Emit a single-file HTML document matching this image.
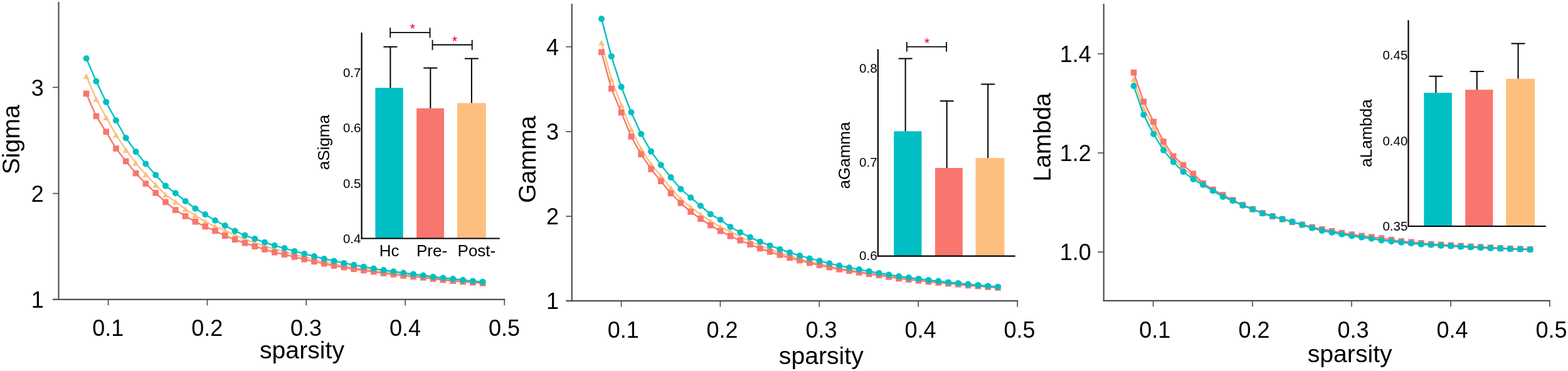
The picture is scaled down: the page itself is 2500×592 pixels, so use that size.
<!DOCTYPE html>
<html><head><meta charset="utf-8"><title>Sigma Gamma Lambda</title>
<style>
html,body{margin:0;padding:0;background:#fff;}
body{width:2500px;height:592px;overflow:hidden;}
svg{display:block;}
text{font-family:'Liberation Sans', Arial, Helvetica, sans-serif;}
</style></head><body>
<svg width="2500" height="592" viewBox="0 0 2500 592">
<rect width="2500" height="592" fill="#fff"/>
<polyline points="137.60,121.50 153.40,158.00 169.20,187.40 185.00,215.30 200.80,239.30 216.60,260.30 232.40,278.40 248.20,295.00 264.00,310.80 279.80,322.00 295.60,333.70 311.40,343.70 327.20,353.80 343.00,361.50 358.80,367.50 374.60,375.11 390.40,381.63 406.20,387.28 422.00,392.64 437.80,397.65 453.60,401.68 469.40,406.01 485.20,410.19 501.00,414.08 516.80,417.56 532.60,420.96 548.40,423.86 564.20,426.66 580.00,429.22 595.80,431.60 611.60,434.04 627.40,436.06 643.20,438.14 659.00,439.84 674.80,441.54 690.60,443.72 706.40,445.42 722.20,446.92 738.00,448.44 753.80,449.88 769.60,451.12" fill="none" stroke="#FDBF7E" stroke-width="2.4" stroke-linejoin="round"/>
<polygon points="137.60,117.00 132.60,126.00 142.60,126.00" fill="#FDBF7E"/>
<polygon points="153.40,153.50 148.40,162.50 158.40,162.50" fill="#FDBF7E"/>
<polygon points="169.20,182.90 164.20,191.90 174.20,191.90" fill="#FDBF7E"/>
<polygon points="185.00,210.80 180.00,219.80 190.00,219.80" fill="#FDBF7E"/>
<polygon points="200.80,234.80 195.80,243.80 205.80,243.80" fill="#FDBF7E"/>
<polygon points="216.60,255.80 211.60,264.80 221.60,264.80" fill="#FDBF7E"/>
<polygon points="232.40,273.90 227.40,282.90 237.40,282.90" fill="#FDBF7E"/>
<polygon points="248.20,290.50 243.20,299.50 253.20,299.50" fill="#FDBF7E"/>
<polygon points="264.00,306.30 259.00,315.30 269.00,315.30" fill="#FDBF7E"/>
<polygon points="279.80,317.50 274.80,326.50 284.80,326.50" fill="#FDBF7E"/>
<polygon points="295.60,329.20 290.60,338.20 300.60,338.20" fill="#FDBF7E"/>
<polygon points="311.40,339.20 306.40,348.20 316.40,348.20" fill="#FDBF7E"/>
<polygon points="327.20,349.30 322.20,358.30 332.20,358.30" fill="#FDBF7E"/>
<polygon points="343.00,357.00 338.00,366.00 348.00,366.00" fill="#FDBF7E"/>
<polygon points="358.80,363.00 353.80,372.00 363.80,372.00" fill="#FDBF7E"/>
<polygon points="374.60,370.61 369.60,379.61 379.60,379.61" fill="#FDBF7E"/>
<polygon points="390.40,377.13 385.40,386.13 395.40,386.13" fill="#FDBF7E"/>
<polygon points="406.20,382.78 401.20,391.78 411.20,391.78" fill="#FDBF7E"/>
<polygon points="422.00,388.14 417.00,397.14 427.00,397.14" fill="#FDBF7E"/>
<polygon points="437.80,393.15 432.80,402.15 442.80,402.15" fill="#FDBF7E"/>
<polygon points="453.60,397.18 448.60,406.18 458.60,406.18" fill="#FDBF7E"/>
<polygon points="469.40,401.51 464.40,410.51 474.40,410.51" fill="#FDBF7E"/>
<polygon points="485.20,405.69 480.20,414.69 490.20,414.69" fill="#FDBF7E"/>
<polygon points="501.00,409.58 496.00,418.58 506.00,418.58" fill="#FDBF7E"/>
<polygon points="516.80,413.06 511.80,422.06 521.80,422.06" fill="#FDBF7E"/>
<polygon points="532.60,416.46 527.60,425.46 537.60,425.46" fill="#FDBF7E"/>
<polygon points="548.40,419.36 543.40,428.36 553.40,428.36" fill="#FDBF7E"/>
<polygon points="564.20,422.16 559.20,431.16 569.20,431.16" fill="#FDBF7E"/>
<polygon points="580.00,424.72 575.00,433.72 585.00,433.72" fill="#FDBF7E"/>
<polygon points="595.80,427.10 590.80,436.10 600.80,436.10" fill="#FDBF7E"/>
<polygon points="611.60,429.54 606.60,438.54 616.60,438.54" fill="#FDBF7E"/>
<polygon points="627.40,431.56 622.40,440.56 632.40,440.56" fill="#FDBF7E"/>
<polygon points="643.20,433.64 638.20,442.64 648.20,442.64" fill="#FDBF7E"/>
<polygon points="659.00,435.34 654.00,444.34 664.00,444.34" fill="#FDBF7E"/>
<polygon points="674.80,437.04 669.80,446.04 679.80,446.04" fill="#FDBF7E"/>
<polygon points="690.60,439.22 685.60,448.22 695.60,448.22" fill="#FDBF7E"/>
<polygon points="706.40,440.92 701.40,449.92 711.40,449.92" fill="#FDBF7E"/>
<polygon points="722.20,442.42 717.20,451.42 727.20,451.42" fill="#FDBF7E"/>
<polygon points="738.00,443.94 733.00,452.94 743.00,452.94" fill="#FDBF7E"/>
<polygon points="753.80,445.38 748.80,454.38 758.80,454.38" fill="#FDBF7E"/>
<polygon points="769.60,446.62 764.60,455.62 774.60,455.62" fill="#FDBF7E"/>
<polyline points="137.60,149.40 153.40,185.40 169.20,210.30 185.00,237.00 200.80,257.30 216.60,276.60 232.40,293.00 248.20,307.80 264.00,322.40 279.80,335.10 295.60,344.90 311.40,353.80 327.20,361.50 343.00,368.50 358.80,376.20 374.60,382.30 390.40,387.80 406.20,393.20 422.00,397.90 437.80,402.60 453.60,406.10 469.40,409.80 485.20,413.80 501.00,417.40 516.80,420.60 532.60,424.00 548.40,426.50 564.20,429.30 580.00,431.50 595.80,433.60 611.60,436.00 627.40,437.90 643.20,439.90 659.00,441.40 674.80,442.90 690.60,445.00 706.40,446.70 722.20,448.20 738.00,449.60 753.80,450.80 769.60,452.00" fill="none" stroke="#F8766D" stroke-width="2.4" stroke-linejoin="round"/>
<rect x="132.80" y="144.60" width="9.6" height="9.6" fill="#F8766D"/>
<rect x="148.60" y="180.60" width="9.6" height="9.6" fill="#F8766D"/>
<rect x="164.40" y="205.50" width="9.6" height="9.6" fill="#F8766D"/>
<rect x="180.20" y="232.20" width="9.6" height="9.6" fill="#F8766D"/>
<rect x="196.00" y="252.50" width="9.6" height="9.6" fill="#F8766D"/>
<rect x="211.80" y="271.80" width="9.6" height="9.6" fill="#F8766D"/>
<rect x="227.60" y="288.20" width="9.6" height="9.6" fill="#F8766D"/>
<rect x="243.40" y="303.00" width="9.6" height="9.6" fill="#F8766D"/>
<rect x="259.20" y="317.60" width="9.6" height="9.6" fill="#F8766D"/>
<rect x="275.00" y="330.30" width="9.6" height="9.6" fill="#F8766D"/>
<rect x="290.80" y="340.10" width="9.6" height="9.6" fill="#F8766D"/>
<rect x="306.60" y="349.00" width="9.6" height="9.6" fill="#F8766D"/>
<rect x="322.40" y="356.70" width="9.6" height="9.6" fill="#F8766D"/>
<rect x="338.20" y="363.70" width="9.6" height="9.6" fill="#F8766D"/>
<rect x="354.00" y="371.40" width="9.6" height="9.6" fill="#F8766D"/>
<rect x="369.80" y="377.50" width="9.6" height="9.6" fill="#F8766D"/>
<rect x="385.60" y="383.00" width="9.6" height="9.6" fill="#F8766D"/>
<rect x="401.40" y="388.40" width="9.6" height="9.6" fill="#F8766D"/>
<rect x="417.20" y="393.10" width="9.6" height="9.6" fill="#F8766D"/>
<rect x="433.00" y="397.80" width="9.6" height="9.6" fill="#F8766D"/>
<rect x="448.80" y="401.30" width="9.6" height="9.6" fill="#F8766D"/>
<rect x="464.60" y="405.00" width="9.6" height="9.6" fill="#F8766D"/>
<rect x="480.40" y="409.00" width="9.6" height="9.6" fill="#F8766D"/>
<rect x="496.20" y="412.60" width="9.6" height="9.6" fill="#F8766D"/>
<rect x="512.00" y="415.80" width="9.6" height="9.6" fill="#F8766D"/>
<rect x="527.80" y="419.20" width="9.6" height="9.6" fill="#F8766D"/>
<rect x="543.60" y="421.70" width="9.6" height="9.6" fill="#F8766D"/>
<rect x="559.40" y="424.50" width="9.6" height="9.6" fill="#F8766D"/>
<rect x="575.20" y="426.70" width="9.6" height="9.6" fill="#F8766D"/>
<rect x="591.00" y="428.80" width="9.6" height="9.6" fill="#F8766D"/>
<rect x="606.80" y="431.20" width="9.6" height="9.6" fill="#F8766D"/>
<rect x="622.60" y="433.10" width="9.6" height="9.6" fill="#F8766D"/>
<rect x="638.40" y="435.10" width="9.6" height="9.6" fill="#F8766D"/>
<rect x="654.20" y="436.60" width="9.6" height="9.6" fill="#F8766D"/>
<rect x="670.00" y="438.10" width="9.6" height="9.6" fill="#F8766D"/>
<rect x="685.80" y="440.20" width="9.6" height="9.6" fill="#F8766D"/>
<rect x="701.60" y="441.90" width="9.6" height="9.6" fill="#F8766D"/>
<rect x="717.40" y="443.40" width="9.6" height="9.6" fill="#F8766D"/>
<rect x="733.20" y="444.80" width="9.6" height="9.6" fill="#F8766D"/>
<rect x="749.00" y="446.00" width="9.6" height="9.6" fill="#F8766D"/>
<rect x="764.80" y="447.20" width="9.6" height="9.6" fill="#F8766D"/>
<polyline points="137.60,93.20 153.40,129.70 169.20,162.80 185.00,192.20 200.80,220.20 216.60,242.10 232.40,261.50 248.20,279.20 264.00,296.60 279.80,308.20 295.60,321.00 311.40,332.70 327.20,342.20 343.00,351.70 358.80,360.00 374.60,368.50 390.40,375.60 406.20,381.10 422.00,386.80 437.80,391.80 453.60,396.10 469.40,400.90 485.20,405.00 501.00,409.10 516.80,413.00 532.60,416.40 548.40,419.90 564.20,422.70 580.00,425.80 595.80,428.60 611.60,431.10 627.40,433.30 643.20,435.50 659.00,437.50 674.80,439.50 690.60,441.80 706.40,443.50 722.20,445.00 738.00,446.70 753.80,448.50 769.60,449.80" fill="none" stroke="#00BFC4" stroke-width="2.4" stroke-linejoin="round"/>
<circle cx="137.60" cy="93.20" r="5.0" fill="#00BFC4"/>
<circle cx="153.40" cy="129.70" r="5.0" fill="#00BFC4"/>
<circle cx="169.20" cy="162.80" r="5.0" fill="#00BFC4"/>
<circle cx="185.00" cy="192.20" r="5.0" fill="#00BFC4"/>
<circle cx="200.80" cy="220.20" r="5.0" fill="#00BFC4"/>
<circle cx="216.60" cy="242.10" r="5.0" fill="#00BFC4"/>
<circle cx="232.40" cy="261.50" r="5.0" fill="#00BFC4"/>
<circle cx="248.20" cy="279.20" r="5.0" fill="#00BFC4"/>
<circle cx="264.00" cy="296.60" r="5.0" fill="#00BFC4"/>
<circle cx="279.80" cy="308.20" r="5.0" fill="#00BFC4"/>
<circle cx="295.60" cy="321.00" r="5.0" fill="#00BFC4"/>
<circle cx="311.40" cy="332.70" r="5.0" fill="#00BFC4"/>
<circle cx="327.20" cy="342.20" r="5.0" fill="#00BFC4"/>
<circle cx="343.00" cy="351.70" r="5.0" fill="#00BFC4"/>
<circle cx="358.80" cy="360.00" r="5.0" fill="#00BFC4"/>
<circle cx="374.60" cy="368.50" r="5.0" fill="#00BFC4"/>
<circle cx="390.40" cy="375.60" r="5.0" fill="#00BFC4"/>
<circle cx="406.20" cy="381.10" r="5.0" fill="#00BFC4"/>
<circle cx="422.00" cy="386.80" r="5.0" fill="#00BFC4"/>
<circle cx="437.80" cy="391.80" r="5.0" fill="#00BFC4"/>
<circle cx="453.60" cy="396.10" r="5.0" fill="#00BFC4"/>
<circle cx="469.40" cy="400.90" r="5.0" fill="#00BFC4"/>
<circle cx="485.20" cy="405.00" r="5.0" fill="#00BFC4"/>
<circle cx="501.00" cy="409.10" r="5.0" fill="#00BFC4"/>
<circle cx="516.80" cy="413.00" r="5.0" fill="#00BFC4"/>
<circle cx="532.60" cy="416.40" r="5.0" fill="#00BFC4"/>
<circle cx="548.40" cy="419.90" r="5.0" fill="#00BFC4"/>
<circle cx="564.20" cy="422.70" r="5.0" fill="#00BFC4"/>
<circle cx="580.00" cy="425.80" r="5.0" fill="#00BFC4"/>
<circle cx="595.80" cy="428.60" r="5.0" fill="#00BFC4"/>
<circle cx="611.60" cy="431.10" r="5.0" fill="#00BFC4"/>
<circle cx="627.40" cy="433.30" r="5.0" fill="#00BFC4"/>
<circle cx="643.20" cy="435.50" r="5.0" fill="#00BFC4"/>
<circle cx="659.00" cy="437.50" r="5.0" fill="#00BFC4"/>
<circle cx="674.80" cy="439.50" r="5.0" fill="#00BFC4"/>
<circle cx="690.60" cy="441.80" r="5.0" fill="#00BFC4"/>
<circle cx="706.40" cy="443.50" r="5.0" fill="#00BFC4"/>
<circle cx="722.20" cy="445.00" r="5.0" fill="#00BFC4"/>
<circle cx="738.00" cy="446.70" r="5.0" fill="#00BFC4"/>
<circle cx="753.80" cy="448.50" r="5.0" fill="#00BFC4"/>
<circle cx="769.60" cy="449.80" r="5.0" fill="#00BFC4"/>
<line x1="93.50" y1="3.00" x2="93.50" y2="478.90" stroke="#505050" stroke-width="2.2" stroke-linecap="butt"/>
<line x1="84.00" y1="477.80" x2="805.40" y2="477.80" stroke="#505050" stroke-width="2.2" stroke-linecap="butt"/>
<line x1="84.00" y1="139.40" x2="93.50" y2="139.40" stroke="#505050" stroke-width="1.7" stroke-linecap="butt"/>
<text x="69.80" y="152.60" font-size="36" text-anchor="end" fill="#000">3</text>
<line x1="84.00" y1="308.70" x2="93.50" y2="308.70" stroke="#505050" stroke-width="1.7" stroke-linecap="butt"/>
<text x="69.80" y="321.90" font-size="36" text-anchor="end" fill="#000">2</text>
<line x1="84.00" y1="477.80" x2="93.50" y2="477.80" stroke="#505050" stroke-width="1.7" stroke-linecap="butt"/>
<text x="69.80" y="491.00" font-size="36" text-anchor="end" fill="#000">1</text>
<line x1="172.60" y1="477.80" x2="172.60" y2="487.30" stroke="#505050" stroke-width="1.7" stroke-linecap="butt"/>
<text x="172.30" y="536.20" font-size="36" text-anchor="middle" fill="#000">0.1</text>
<line x1="330.50" y1="477.80" x2="330.50" y2="487.30" stroke="#505050" stroke-width="1.7" stroke-linecap="butt"/>
<text x="330.20" y="536.20" font-size="36" text-anchor="middle" fill="#000">0.2</text>
<line x1="488.30" y1="477.80" x2="488.30" y2="487.30" stroke="#505050" stroke-width="1.7" stroke-linecap="butt"/>
<text x="488.00" y="536.20" font-size="36" text-anchor="middle" fill="#000">0.3</text>
<line x1="646.20" y1="477.80" x2="646.20" y2="487.30" stroke="#505050" stroke-width="1.7" stroke-linecap="butt"/>
<text x="645.90" y="536.20" font-size="36" text-anchor="middle" fill="#000">0.4</text>
<line x1="804.30" y1="477.80" x2="804.30" y2="487.30" stroke="#505050" stroke-width="1.7" stroke-linecap="butt"/>
<text x="804.00" y="536.20" font-size="36" text-anchor="middle" fill="#000">0.5</text>
<text x="31.50" y="222.80" font-size="39.2" text-anchor="middle" fill="#000" transform="rotate(-90 31.50 222.80)">Sigma</text>
<text x="481.50" y="571.70" font-size="39.2" text-anchor="middle" fill="#000">sparsity</text>
<polyline points="959.00,68.00 974.80,126.50 990.60,167.40 1006.40,206.50 1022.20,237.50 1038.00,261.80 1053.80,281.10 1069.60,300.30 1085.40,317.60 1101.20,330.50 1117.00,342.00 1132.80,352.80 1148.60,362.00 1164.40,369.70 1180.20,377.72 1196.00,384.99 1211.80,392.01 1227.60,397.84 1243.40,403.34 1259.20,408.38 1275.00,412.92 1290.80,417.30 1306.60,421.03 1322.40,424.71 1338.20,428.00 1354.00,430.67 1369.80,433.39 1385.60,435.98 1401.40,438.28 1417.20,440.88 1433.00,443.38 1448.80,445.17 1464.60,446.93 1480.40,448.79 1496.20,450.35 1512.00,451.94 1527.80,453.23 1543.60,454.93 1559.40,456.12 1575.20,457.48 1591.00,458.68" fill="none" stroke="#FDBF7E" stroke-width="2.4" stroke-linejoin="round"/>
<polygon points="959.00,63.50 954.00,72.50 964.00,72.50" fill="#FDBF7E"/>
<polygon points="974.80,122.00 969.80,131.00 979.80,131.00" fill="#FDBF7E"/>
<polygon points="990.60,162.90 985.60,171.90 995.60,171.90" fill="#FDBF7E"/>
<polygon points="1006.40,202.00 1001.40,211.00 1011.40,211.00" fill="#FDBF7E"/>
<polygon points="1022.20,233.00 1017.20,242.00 1027.20,242.00" fill="#FDBF7E"/>
<polygon points="1038.00,257.30 1033.00,266.30 1043.00,266.30" fill="#FDBF7E"/>
<polygon points="1053.80,276.60 1048.80,285.60 1058.80,285.60" fill="#FDBF7E"/>
<polygon points="1069.60,295.80 1064.60,304.80 1074.60,304.80" fill="#FDBF7E"/>
<polygon points="1085.40,313.10 1080.40,322.10 1090.40,322.10" fill="#FDBF7E"/>
<polygon points="1101.20,326.00 1096.20,335.00 1106.20,335.00" fill="#FDBF7E"/>
<polygon points="1117.00,337.50 1112.00,346.50 1122.00,346.50" fill="#FDBF7E"/>
<polygon points="1132.80,348.30 1127.80,357.30 1137.80,357.30" fill="#FDBF7E"/>
<polygon points="1148.60,357.50 1143.60,366.50 1153.60,366.50" fill="#FDBF7E"/>
<polygon points="1164.40,365.20 1159.40,374.20 1169.40,374.20" fill="#FDBF7E"/>
<polygon points="1180.20,373.22 1175.20,382.22 1185.20,382.22" fill="#FDBF7E"/>
<polygon points="1196.00,380.49 1191.00,389.49 1201.00,389.49" fill="#FDBF7E"/>
<polygon points="1211.80,387.51 1206.80,396.51 1216.80,396.51" fill="#FDBF7E"/>
<polygon points="1227.60,393.34 1222.60,402.34 1232.60,402.34" fill="#FDBF7E"/>
<polygon points="1243.40,398.84 1238.40,407.84 1248.40,407.84" fill="#FDBF7E"/>
<polygon points="1259.20,403.88 1254.20,412.88 1264.20,412.88" fill="#FDBF7E"/>
<polygon points="1275.00,408.42 1270.00,417.42 1280.00,417.42" fill="#FDBF7E"/>
<polygon points="1290.80,412.80 1285.80,421.80 1295.80,421.80" fill="#FDBF7E"/>
<polygon points="1306.60,416.53 1301.60,425.53 1311.60,425.53" fill="#FDBF7E"/>
<polygon points="1322.40,420.21 1317.40,429.21 1327.40,429.21" fill="#FDBF7E"/>
<polygon points="1338.20,423.50 1333.20,432.50 1343.20,432.50" fill="#FDBF7E"/>
<polygon points="1354.00,426.17 1349.00,435.17 1359.00,435.17" fill="#FDBF7E"/>
<polygon points="1369.80,428.89 1364.80,437.89 1374.80,437.89" fill="#FDBF7E"/>
<polygon points="1385.60,431.48 1380.60,440.48 1390.60,440.48" fill="#FDBF7E"/>
<polygon points="1401.40,433.78 1396.40,442.78 1406.40,442.78" fill="#FDBF7E"/>
<polygon points="1417.20,436.38 1412.20,445.38 1422.20,445.38" fill="#FDBF7E"/>
<polygon points="1433.00,438.88 1428.00,447.88 1438.00,447.88" fill="#FDBF7E"/>
<polygon points="1448.80,440.67 1443.80,449.67 1453.80,449.67" fill="#FDBF7E"/>
<polygon points="1464.60,442.43 1459.60,451.43 1469.60,451.43" fill="#FDBF7E"/>
<polygon points="1480.40,444.29 1475.40,453.29 1485.40,453.29" fill="#FDBF7E"/>
<polygon points="1496.20,445.85 1491.20,454.85 1501.20,454.85" fill="#FDBF7E"/>
<polygon points="1512.00,447.44 1507.00,456.44 1517.00,456.44" fill="#FDBF7E"/>
<polygon points="1527.80,448.73 1522.80,457.73 1532.80,457.73" fill="#FDBF7E"/>
<polygon points="1543.60,450.43 1538.60,459.43 1548.60,459.43" fill="#FDBF7E"/>
<polygon points="1559.40,451.62 1554.40,460.62 1564.40,460.62" fill="#FDBF7E"/>
<polygon points="1575.20,452.98 1570.20,461.98 1580.20,461.98" fill="#FDBF7E"/>
<polygon points="1591.00,454.18 1586.00,463.18 1596.00,463.18" fill="#FDBF7E"/>
<polyline points="959.00,83.20 974.80,141.40 990.60,179.50 1006.40,217.90 1022.20,246.20 1038.00,269.90 1053.80,289.20 1069.60,308.50 1085.40,324.00 1101.20,338.00 1117.00,349.20 1132.80,359.50 1148.60,368.70 1164.40,376.80 1180.20,383.70 1196.00,390.00 1211.80,396.50 1227.60,401.80 1243.40,406.80 1259.20,411.40 1275.00,415.50 1290.80,419.60 1306.60,423.10 1322.40,426.60 1338.20,429.80 1354.00,432.20 1369.80,434.80 1385.60,437.30 1401.40,439.30 1417.20,441.90 1433.00,444.40 1448.80,446.10 1464.60,447.80 1480.40,449.60 1496.20,451.10 1512.00,452.60 1527.80,453.80 1543.60,455.50 1559.40,456.60 1575.20,457.90 1591.00,459.10" fill="none" stroke="#F8766D" stroke-width="2.4" stroke-linejoin="round"/>
<rect x="954.20" y="78.40" width="9.6" height="9.6" fill="#F8766D"/>
<rect x="970.00" y="136.60" width="9.6" height="9.6" fill="#F8766D"/>
<rect x="985.80" y="174.70" width="9.6" height="9.6" fill="#F8766D"/>
<rect x="1001.60" y="213.10" width="9.6" height="9.6" fill="#F8766D"/>
<rect x="1017.40" y="241.40" width="9.6" height="9.6" fill="#F8766D"/>
<rect x="1033.20" y="265.10" width="9.6" height="9.6" fill="#F8766D"/>
<rect x="1049.00" y="284.40" width="9.6" height="9.6" fill="#F8766D"/>
<rect x="1064.80" y="303.70" width="9.6" height="9.6" fill="#F8766D"/>
<rect x="1080.60" y="319.20" width="9.6" height="9.6" fill="#F8766D"/>
<rect x="1096.40" y="333.20" width="9.6" height="9.6" fill="#F8766D"/>
<rect x="1112.20" y="344.40" width="9.6" height="9.6" fill="#F8766D"/>
<rect x="1128.00" y="354.70" width="9.6" height="9.6" fill="#F8766D"/>
<rect x="1143.80" y="363.90" width="9.6" height="9.6" fill="#F8766D"/>
<rect x="1159.60" y="372.00" width="9.6" height="9.6" fill="#F8766D"/>
<rect x="1175.40" y="378.90" width="9.6" height="9.6" fill="#F8766D"/>
<rect x="1191.20" y="385.20" width="9.6" height="9.6" fill="#F8766D"/>
<rect x="1207.00" y="391.70" width="9.6" height="9.6" fill="#F8766D"/>
<rect x="1222.80" y="397.00" width="9.6" height="9.6" fill="#F8766D"/>
<rect x="1238.60" y="402.00" width="9.6" height="9.6" fill="#F8766D"/>
<rect x="1254.40" y="406.60" width="9.6" height="9.6" fill="#F8766D"/>
<rect x="1270.20" y="410.70" width="9.6" height="9.6" fill="#F8766D"/>
<rect x="1286.00" y="414.80" width="9.6" height="9.6" fill="#F8766D"/>
<rect x="1301.80" y="418.30" width="9.6" height="9.6" fill="#F8766D"/>
<rect x="1317.60" y="421.80" width="9.6" height="9.6" fill="#F8766D"/>
<rect x="1333.40" y="425.00" width="9.6" height="9.6" fill="#F8766D"/>
<rect x="1349.20" y="427.40" width="9.6" height="9.6" fill="#F8766D"/>
<rect x="1365.00" y="430.00" width="9.6" height="9.6" fill="#F8766D"/>
<rect x="1380.80" y="432.50" width="9.6" height="9.6" fill="#F8766D"/>
<rect x="1396.60" y="434.50" width="9.6" height="9.6" fill="#F8766D"/>
<rect x="1412.40" y="437.10" width="9.6" height="9.6" fill="#F8766D"/>
<rect x="1428.20" y="439.60" width="9.6" height="9.6" fill="#F8766D"/>
<rect x="1444.00" y="441.30" width="9.6" height="9.6" fill="#F8766D"/>
<rect x="1459.80" y="443.00" width="9.6" height="9.6" fill="#F8766D"/>
<rect x="1475.60" y="444.80" width="9.6" height="9.6" fill="#F8766D"/>
<rect x="1491.40" y="446.30" width="9.6" height="9.6" fill="#F8766D"/>
<rect x="1507.20" y="447.80" width="9.6" height="9.6" fill="#F8766D"/>
<rect x="1523.00" y="449.00" width="9.6" height="9.6" fill="#F8766D"/>
<rect x="1538.80" y="450.70" width="9.6" height="9.6" fill="#F8766D"/>
<rect x="1554.60" y="451.80" width="9.6" height="9.6" fill="#F8766D"/>
<rect x="1570.40" y="453.10" width="9.6" height="9.6" fill="#F8766D"/>
<rect x="1586.20" y="454.30" width="9.6" height="9.6" fill="#F8766D"/>
<polyline points="959.00,30.10 974.80,89.90 990.60,138.80 1006.40,179.30 1022.20,213.80 1038.00,241.60 1053.80,263.20 1069.60,283.10 1085.40,301.80 1101.20,315.20 1117.00,328.50 1132.80,341.70 1148.60,350.80 1164.40,362.00 1180.20,370.70 1196.00,378.60 1211.80,385.80 1227.60,391.90 1243.40,397.70 1259.20,403.00 1275.00,407.90 1290.80,412.40 1306.60,416.20 1322.40,420.30 1338.20,423.80 1354.00,427.10 1369.80,430.10 1385.60,432.90 1401.40,435.90 1417.20,438.50 1433.00,441.00 1448.80,443.00 1464.60,444.90 1480.40,446.90 1496.20,448.60 1512.00,450.40 1527.80,451.90 1543.60,453.60 1559.40,455.00 1575.20,456.50 1591.00,457.70" fill="none" stroke="#00BFC4" stroke-width="2.4" stroke-linejoin="round"/>
<circle cx="959.00" cy="30.10" r="5.0" fill="#00BFC4"/>
<circle cx="974.80" cy="89.90" r="5.0" fill="#00BFC4"/>
<circle cx="990.60" cy="138.80" r="5.0" fill="#00BFC4"/>
<circle cx="1006.40" cy="179.30" r="5.0" fill="#00BFC4"/>
<circle cx="1022.20" cy="213.80" r="5.0" fill="#00BFC4"/>
<circle cx="1038.00" cy="241.60" r="5.0" fill="#00BFC4"/>
<circle cx="1053.80" cy="263.20" r="5.0" fill="#00BFC4"/>
<circle cx="1069.60" cy="283.10" r="5.0" fill="#00BFC4"/>
<circle cx="1085.40" cy="301.80" r="5.0" fill="#00BFC4"/>
<circle cx="1101.20" cy="315.20" r="5.0" fill="#00BFC4"/>
<circle cx="1117.00" cy="328.50" r="5.0" fill="#00BFC4"/>
<circle cx="1132.80" cy="341.70" r="5.0" fill="#00BFC4"/>
<circle cx="1148.60" cy="350.80" r="5.0" fill="#00BFC4"/>
<circle cx="1164.40" cy="362.00" r="5.0" fill="#00BFC4"/>
<circle cx="1180.20" cy="370.70" r="5.0" fill="#00BFC4"/>
<circle cx="1196.00" cy="378.60" r="5.0" fill="#00BFC4"/>
<circle cx="1211.80" cy="385.80" r="5.0" fill="#00BFC4"/>
<circle cx="1227.60" cy="391.90" r="5.0" fill="#00BFC4"/>
<circle cx="1243.40" cy="397.70" r="5.0" fill="#00BFC4"/>
<circle cx="1259.20" cy="403.00" r="5.0" fill="#00BFC4"/>
<circle cx="1275.00" cy="407.90" r="5.0" fill="#00BFC4"/>
<circle cx="1290.80" cy="412.40" r="5.0" fill="#00BFC4"/>
<circle cx="1306.60" cy="416.20" r="5.0" fill="#00BFC4"/>
<circle cx="1322.40" cy="420.30" r="5.0" fill="#00BFC4"/>
<circle cx="1338.20" cy="423.80" r="5.0" fill="#00BFC4"/>
<circle cx="1354.00" cy="427.10" r="5.0" fill="#00BFC4"/>
<circle cx="1369.80" cy="430.10" r="5.0" fill="#00BFC4"/>
<circle cx="1385.60" cy="432.90" r="5.0" fill="#00BFC4"/>
<circle cx="1401.40" cy="435.90" r="5.0" fill="#00BFC4"/>
<circle cx="1417.20" cy="438.50" r="5.0" fill="#00BFC4"/>
<circle cx="1433.00" cy="441.00" r="5.0" fill="#00BFC4"/>
<circle cx="1448.80" cy="443.00" r="5.0" fill="#00BFC4"/>
<circle cx="1464.60" cy="444.90" r="5.0" fill="#00BFC4"/>
<circle cx="1480.40" cy="446.90" r="5.0" fill="#00BFC4"/>
<circle cx="1496.20" cy="448.60" r="5.0" fill="#00BFC4"/>
<circle cx="1512.00" cy="450.40" r="5.0" fill="#00BFC4"/>
<circle cx="1527.80" cy="451.90" r="5.0" fill="#00BFC4"/>
<circle cx="1543.60" cy="453.60" r="5.0" fill="#00BFC4"/>
<circle cx="1559.40" cy="455.00" r="5.0" fill="#00BFC4"/>
<circle cx="1575.20" cy="456.50" r="5.0" fill="#00BFC4"/>
<circle cx="1591.00" cy="457.70" r="5.0" fill="#00BFC4"/>
<line x1="911.80" y1="6.00" x2="911.80" y2="481.30" stroke="#505050" stroke-width="2.2" stroke-linecap="butt"/>
<line x1="902.30" y1="480.20" x2="1623.30" y2="480.20" stroke="#505050" stroke-width="2.2" stroke-linecap="butt"/>
<line x1="902.30" y1="74.60" x2="911.80" y2="74.60" stroke="#505050" stroke-width="1.7" stroke-linecap="butt"/>
<text x="891.10" y="87.70" font-size="36" text-anchor="end" fill="#000">4</text>
<line x1="902.30" y1="210.10" x2="911.80" y2="210.10" stroke="#505050" stroke-width="1.7" stroke-linecap="butt"/>
<text x="891.10" y="223.20" font-size="36" text-anchor="end" fill="#000">3</text>
<line x1="902.30" y1="345.20" x2="911.80" y2="345.20" stroke="#505050" stroke-width="1.7" stroke-linecap="butt"/>
<text x="891.10" y="358.30" font-size="36" text-anchor="end" fill="#000">2</text>
<line x1="902.30" y1="480.20" x2="911.80" y2="480.20" stroke="#505050" stroke-width="1.7" stroke-linecap="butt"/>
<text x="891.10" y="493.30" font-size="36" text-anchor="end" fill="#000">1</text>
<line x1="990.60" y1="480.20" x2="990.60" y2="489.70" stroke="#505050" stroke-width="1.7" stroke-linecap="butt"/>
<text x="993.80" y="539.20" font-size="36" text-anchor="middle" fill="#000">0.1</text>
<line x1="1148.40" y1="480.20" x2="1148.40" y2="489.70" stroke="#505050" stroke-width="1.7" stroke-linecap="butt"/>
<text x="1151.60" y="539.20" font-size="36" text-anchor="middle" fill="#000">0.2</text>
<line x1="1306.30" y1="480.20" x2="1306.30" y2="489.70" stroke="#505050" stroke-width="1.7" stroke-linecap="butt"/>
<text x="1309.50" y="539.20" font-size="36" text-anchor="middle" fill="#000">0.3</text>
<line x1="1464.20" y1="480.20" x2="1464.20" y2="489.70" stroke="#505050" stroke-width="1.7" stroke-linecap="butt"/>
<text x="1467.40" y="539.20" font-size="36" text-anchor="middle" fill="#000">0.4</text>
<line x1="1622.20" y1="480.20" x2="1622.20" y2="489.70" stroke="#505050" stroke-width="1.7" stroke-linecap="butt"/>
<text x="1625.40" y="539.20" font-size="36" text-anchor="middle" fill="#000">0.5</text>
<text x="853.70" y="254.30" font-size="39.2" text-anchor="middle" fill="#000" transform="rotate(-90 853.70 254.30)">Gamma</text>
<text x="1309.30" y="581.30" font-size="39.2" text-anchor="middle" fill="#000">sparsity</text>
<polyline points="1807.60,126.60 1823.40,173.00 1839.20,203.40 1855.00,232.31 1870.80,253.55 1886.60,268.44 1902.40,281.32 1918.20,293.64 1934.00,303.41 1949.80,312.40 1965.60,319.79 1981.40,327.44 1997.20,333.80 2013.00,340.25 2028.80,345.10 2044.60,349.65 2060.40,354.05 2076.20,358.60 2092.00,363.10 2107.80,366.95 2123.60,369.85 2139.40,372.70 2155.20,375.30 2171.00,377.50 2186.80,379.40 2202.60,381.75 2218.40,383.95 2234.20,385.85 2250.00,387.20 2265.80,388.80 2281.60,390.10 2297.40,391.15 2313.20,392.00 2329.00,393.10 2344.80,393.90 2360.60,394.70 2376.40,395.50 2392.20,396.30 2408.00,396.95 2423.80,397.40 2439.60,398.00" fill="none" stroke="#FDBF7E" stroke-width="2.4" stroke-linejoin="round"/>
<polygon points="1807.60,122.10 1802.60,131.10 1812.60,131.10" fill="#FDBF7E"/>
<polygon points="1823.40,168.50 1818.40,177.50 1828.40,177.50" fill="#FDBF7E"/>
<polygon points="1839.20,198.90 1834.20,207.90 1844.20,207.90" fill="#FDBF7E"/>
<polygon points="1855.00,227.81 1850.00,236.81 1860.00,236.81" fill="#FDBF7E"/>
<polygon points="1870.80,249.05 1865.80,258.05 1875.80,258.05" fill="#FDBF7E"/>
<polygon points="1886.60,263.94 1881.60,272.94 1891.60,272.94" fill="#FDBF7E"/>
<polygon points="1902.40,276.82 1897.40,285.82 1907.40,285.82" fill="#FDBF7E"/>
<polygon points="1918.20,289.14 1913.20,298.14 1923.20,298.14" fill="#FDBF7E"/>
<polygon points="1934.00,298.91 1929.00,307.91 1939.00,307.91" fill="#FDBF7E"/>
<polygon points="1949.80,307.90 1944.80,316.90 1954.80,316.90" fill="#FDBF7E"/>
<polygon points="1965.60,315.29 1960.60,324.29 1970.60,324.29" fill="#FDBF7E"/>
<polygon points="1981.40,322.94 1976.40,331.94 1986.40,331.94" fill="#FDBF7E"/>
<polygon points="1997.20,329.30 1992.20,338.30 2002.20,338.30" fill="#FDBF7E"/>
<polygon points="2013.00,335.75 2008.00,344.75 2018.00,344.75" fill="#FDBF7E"/>
<polygon points="2028.80,340.60 2023.80,349.60 2033.80,349.60" fill="#FDBF7E"/>
<polygon points="2044.60,345.15 2039.60,354.15 2049.60,354.15" fill="#FDBF7E"/>
<polygon points="2060.40,349.55 2055.40,358.55 2065.40,358.55" fill="#FDBF7E"/>
<polygon points="2076.20,354.10 2071.20,363.10 2081.20,363.10" fill="#FDBF7E"/>
<polygon points="2092.00,358.60 2087.00,367.60 2097.00,367.60" fill="#FDBF7E"/>
<polygon points="2107.80,362.45 2102.80,371.45 2112.80,371.45" fill="#FDBF7E"/>
<polygon points="2123.60,365.35 2118.60,374.35 2128.60,374.35" fill="#FDBF7E"/>
<polygon points="2139.40,368.20 2134.40,377.20 2144.40,377.20" fill="#FDBF7E"/>
<polygon points="2155.20,370.80 2150.20,379.80 2160.20,379.80" fill="#FDBF7E"/>
<polygon points="2171.00,373.00 2166.00,382.00 2176.00,382.00" fill="#FDBF7E"/>
<polygon points="2186.80,374.90 2181.80,383.90 2191.80,383.90" fill="#FDBF7E"/>
<polygon points="2202.60,377.25 2197.60,386.25 2207.60,386.25" fill="#FDBF7E"/>
<polygon points="2218.40,379.45 2213.40,388.45 2223.40,388.45" fill="#FDBF7E"/>
<polygon points="2234.20,381.35 2229.20,390.35 2239.20,390.35" fill="#FDBF7E"/>
<polygon points="2250.00,382.70 2245.00,391.70 2255.00,391.70" fill="#FDBF7E"/>
<polygon points="2265.80,384.30 2260.80,393.30 2270.80,393.30" fill="#FDBF7E"/>
<polygon points="2281.60,385.60 2276.60,394.60 2286.60,394.60" fill="#FDBF7E"/>
<polygon points="2297.40,386.65 2292.40,395.65 2302.40,395.65" fill="#FDBF7E"/>
<polygon points="2313.20,387.50 2308.20,396.50 2318.20,396.50" fill="#FDBF7E"/>
<polygon points="2329.00,388.60 2324.00,397.60 2334.00,397.60" fill="#FDBF7E"/>
<polygon points="2344.80,389.40 2339.80,398.40 2349.80,398.40" fill="#FDBF7E"/>
<polygon points="2360.60,390.20 2355.60,399.20 2365.60,399.20" fill="#FDBF7E"/>
<polygon points="2376.40,391.00 2371.40,400.00 2381.40,400.00" fill="#FDBF7E"/>
<polygon points="2392.20,391.80 2387.20,400.80 2397.20,400.80" fill="#FDBF7E"/>
<polygon points="2408.00,392.45 2403.00,401.45 2413.00,401.45" fill="#FDBF7E"/>
<polygon points="2423.80,392.90 2418.80,401.90 2428.80,401.90" fill="#FDBF7E"/>
<polygon points="2439.60,393.50 2434.60,402.50 2444.60,402.50" fill="#FDBF7E"/>
<polyline points="1807.60,115.80 1823.40,162.20 1839.20,194.40 1855.00,225.90 1870.80,249.20 1886.60,263.40 1902.40,277.20 1918.20,292.40 1934.00,302.50 1949.80,311.00 1965.60,319.30 1981.40,327.00 1997.20,333.70 2013.00,340.00 2028.80,345.20 2044.60,349.70 2060.40,354.40 2076.20,358.40 2092.00,362.40 2107.80,365.80 2123.60,368.80 2139.40,371.60 2155.20,374.10 2171.00,376.30 2186.80,378.10 2202.60,380.10 2218.40,382.60 2234.20,384.90 2250.00,386.20 2265.80,387.90 2281.60,389.40 2297.40,390.40 2313.20,391.30 2329.00,392.40 2344.80,393.30 2360.60,394.10 2376.40,395.00 2392.20,396.00 2408.00,396.70 2423.80,397.10 2439.60,397.70" fill="none" stroke="#F8766D" stroke-width="2.4" stroke-linejoin="round"/>
<rect x="1802.80" y="111.00" width="9.6" height="9.6" fill="#F8766D"/>
<rect x="1818.60" y="157.40" width="9.6" height="9.6" fill="#F8766D"/>
<rect x="1834.40" y="189.60" width="9.6" height="9.6" fill="#F8766D"/>
<rect x="1850.20" y="221.10" width="9.6" height="9.6" fill="#F8766D"/>
<rect x="1866.00" y="244.40" width="9.6" height="9.6" fill="#F8766D"/>
<rect x="1881.80" y="258.60" width="9.6" height="9.6" fill="#F8766D"/>
<rect x="1897.60" y="272.40" width="9.6" height="9.6" fill="#F8766D"/>
<rect x="1913.40" y="287.60" width="9.6" height="9.6" fill="#F8766D"/>
<rect x="1929.20" y="297.70" width="9.6" height="9.6" fill="#F8766D"/>
<rect x="1945.00" y="306.20" width="9.6" height="9.6" fill="#F8766D"/>
<rect x="1960.80" y="314.50" width="9.6" height="9.6" fill="#F8766D"/>
<rect x="1976.60" y="322.20" width="9.6" height="9.6" fill="#F8766D"/>
<rect x="1992.40" y="328.90" width="9.6" height="9.6" fill="#F8766D"/>
<rect x="2008.20" y="335.20" width="9.6" height="9.6" fill="#F8766D"/>
<rect x="2024.00" y="340.40" width="9.6" height="9.6" fill="#F8766D"/>
<rect x="2039.80" y="344.90" width="9.6" height="9.6" fill="#F8766D"/>
<rect x="2055.60" y="349.60" width="9.6" height="9.6" fill="#F8766D"/>
<rect x="2071.40" y="353.60" width="9.6" height="9.6" fill="#F8766D"/>
<rect x="2087.20" y="357.60" width="9.6" height="9.6" fill="#F8766D"/>
<rect x="2103.00" y="361.00" width="9.6" height="9.6" fill="#F8766D"/>
<rect x="2118.80" y="364.00" width="9.6" height="9.6" fill="#F8766D"/>
<rect x="2134.60" y="366.80" width="9.6" height="9.6" fill="#F8766D"/>
<rect x="2150.40" y="369.30" width="9.6" height="9.6" fill="#F8766D"/>
<rect x="2166.20" y="371.50" width="9.6" height="9.6" fill="#F8766D"/>
<rect x="2182.00" y="373.30" width="9.6" height="9.6" fill="#F8766D"/>
<rect x="2197.80" y="375.30" width="9.6" height="9.6" fill="#F8766D"/>
<rect x="2213.60" y="377.80" width="9.6" height="9.6" fill="#F8766D"/>
<rect x="2229.40" y="380.10" width="9.6" height="9.6" fill="#F8766D"/>
<rect x="2245.20" y="381.40" width="9.6" height="9.6" fill="#F8766D"/>
<rect x="2261.00" y="383.10" width="9.6" height="9.6" fill="#F8766D"/>
<rect x="2276.80" y="384.60" width="9.6" height="9.6" fill="#F8766D"/>
<rect x="2292.60" y="385.60" width="9.6" height="9.6" fill="#F8766D"/>
<rect x="2308.40" y="386.50" width="9.6" height="9.6" fill="#F8766D"/>
<rect x="2324.20" y="387.60" width="9.6" height="9.6" fill="#F8766D"/>
<rect x="2340.00" y="388.50" width="9.6" height="9.6" fill="#F8766D"/>
<rect x="2355.80" y="389.30" width="9.6" height="9.6" fill="#F8766D"/>
<rect x="2371.60" y="390.20" width="9.6" height="9.6" fill="#F8766D"/>
<rect x="2387.40" y="391.20" width="9.6" height="9.6" fill="#F8766D"/>
<rect x="2403.20" y="391.90" width="9.6" height="9.6" fill="#F8766D"/>
<rect x="2419.00" y="392.30" width="9.6" height="9.6" fill="#F8766D"/>
<rect x="2434.80" y="392.90" width="9.6" height="9.6" fill="#F8766D"/>
<polyline points="1807.60,137.10 1823.40,183.10 1839.20,213.90 1855.00,239.70 1870.80,258.50 1886.60,274.10 1902.40,285.90 1918.20,295.00 1934.00,304.40 1949.80,313.90 1965.60,320.30 1981.40,327.90 1997.20,333.90 2013.00,340.50 2028.80,345.00 2044.60,349.60 2060.40,353.70 2076.20,358.80 2092.00,363.80 2107.80,368.10 2123.60,370.90 2139.40,373.80 2155.20,376.50 2171.00,378.70 2186.80,380.70 2202.60,383.40 2218.40,385.30 2234.20,386.80 2250.00,388.20 2265.80,389.70 2281.60,390.80 2297.40,391.90 2313.20,392.70 2329.00,393.80 2344.80,394.50 2360.60,395.30 2376.40,396.00 2392.20,396.60 2408.00,397.20 2423.80,397.70 2439.60,398.30" fill="none" stroke="#00BFC4" stroke-width="2.4" stroke-linejoin="round"/>
<circle cx="1807.60" cy="137.10" r="5.0" fill="#00BFC4"/>
<circle cx="1823.40" cy="183.10" r="5.0" fill="#00BFC4"/>
<circle cx="1839.20" cy="213.90" r="5.0" fill="#00BFC4"/>
<circle cx="1855.00" cy="239.70" r="5.0" fill="#00BFC4"/>
<circle cx="1870.80" cy="258.50" r="5.0" fill="#00BFC4"/>
<circle cx="1886.60" cy="274.10" r="5.0" fill="#00BFC4"/>
<circle cx="1902.40" cy="285.90" r="5.0" fill="#00BFC4"/>
<circle cx="1918.20" cy="295.00" r="5.0" fill="#00BFC4"/>
<circle cx="1934.00" cy="304.40" r="5.0" fill="#00BFC4"/>
<circle cx="1949.80" cy="313.90" r="5.0" fill="#00BFC4"/>
<circle cx="1965.60" cy="320.30" r="5.0" fill="#00BFC4"/>
<circle cx="1981.40" cy="327.90" r="5.0" fill="#00BFC4"/>
<circle cx="1997.20" cy="333.90" r="5.0" fill="#00BFC4"/>
<circle cx="2013.00" cy="340.50" r="5.0" fill="#00BFC4"/>
<circle cx="2028.80" cy="345.00" r="5.0" fill="#00BFC4"/>
<circle cx="2044.60" cy="349.60" r="5.0" fill="#00BFC4"/>
<circle cx="2060.40" cy="353.70" r="5.0" fill="#00BFC4"/>
<circle cx="2076.20" cy="358.80" r="5.0" fill="#00BFC4"/>
<circle cx="2092.00" cy="363.80" r="5.0" fill="#00BFC4"/>
<circle cx="2107.80" cy="368.10" r="5.0" fill="#00BFC4"/>
<circle cx="2123.60" cy="370.90" r="5.0" fill="#00BFC4"/>
<circle cx="2139.40" cy="373.80" r="5.0" fill="#00BFC4"/>
<circle cx="2155.20" cy="376.50" r="5.0" fill="#00BFC4"/>
<circle cx="2171.00" cy="378.70" r="5.0" fill="#00BFC4"/>
<circle cx="2186.80" cy="380.70" r="5.0" fill="#00BFC4"/>
<circle cx="2202.60" cy="383.40" r="5.0" fill="#00BFC4"/>
<circle cx="2218.40" cy="385.30" r="5.0" fill="#00BFC4"/>
<circle cx="2234.20" cy="386.80" r="5.0" fill="#00BFC4"/>
<circle cx="2250.00" cy="388.20" r="5.0" fill="#00BFC4"/>
<circle cx="2265.80" cy="389.70" r="5.0" fill="#00BFC4"/>
<circle cx="2281.60" cy="390.80" r="5.0" fill="#00BFC4"/>
<circle cx="2297.40" cy="391.90" r="5.0" fill="#00BFC4"/>
<circle cx="2313.20" cy="392.70" r="5.0" fill="#00BFC4"/>
<circle cx="2329.00" cy="393.80" r="5.0" fill="#00BFC4"/>
<circle cx="2344.80" cy="394.50" r="5.0" fill="#00BFC4"/>
<circle cx="2360.60" cy="395.30" r="5.0" fill="#00BFC4"/>
<circle cx="2376.40" cy="396.00" r="5.0" fill="#00BFC4"/>
<circle cx="2392.20" cy="396.60" r="5.0" fill="#00BFC4"/>
<circle cx="2408.00" cy="397.20" r="5.0" fill="#00BFC4"/>
<circle cx="2423.80" cy="397.70" r="5.0" fill="#00BFC4"/>
<circle cx="2439.60" cy="398.30" r="5.0" fill="#00BFC4"/>
<line x1="1759.80" y1="6.00" x2="1759.80" y2="480.90" stroke="#505050" stroke-width="2.2" stroke-linecap="butt"/>
<line x1="1758.70" y1="479.80" x2="2472.00" y2="479.80" stroke="#505050" stroke-width="2.2" stroke-linecap="butt"/>
<line x1="1750.30" y1="85.90" x2="1759.80" y2="85.90" stroke="#505050" stroke-width="1.7" stroke-linecap="butt"/>
<text x="1739.90" y="98.70" font-size="36" text-anchor="end" fill="#000">1.4</text>
<line x1="1750.30" y1="244.10" x2="1759.80" y2="244.10" stroke="#505050" stroke-width="1.7" stroke-linecap="butt"/>
<text x="1739.90" y="256.90" font-size="36" text-anchor="end" fill="#000">1.2</text>
<line x1="1750.30" y1="402.10" x2="1759.80" y2="402.10" stroke="#505050" stroke-width="1.7" stroke-linecap="butt"/>
<text x="1739.90" y="414.90" font-size="36" text-anchor="end" fill="#000">1.0</text>
<line x1="1838.70" y1="479.80" x2="1838.70" y2="489.30" stroke="#505050" stroke-width="1.7" stroke-linecap="butt"/>
<text x="1841.30" y="538.80" font-size="36" text-anchor="middle" fill="#000">0.1</text>
<line x1="1996.90" y1="479.80" x2="1996.90" y2="489.30" stroke="#505050" stroke-width="1.7" stroke-linecap="butt"/>
<text x="1999.50" y="538.80" font-size="36" text-anchor="middle" fill="#000">0.2</text>
<line x1="2155.00" y1="479.80" x2="2155.00" y2="489.30" stroke="#505050" stroke-width="1.7" stroke-linecap="butt"/>
<text x="2157.60" y="538.80" font-size="36" text-anchor="middle" fill="#000">0.3</text>
<line x1="2313.00" y1="479.80" x2="2313.00" y2="489.30" stroke="#505050" stroke-width="1.7" stroke-linecap="butt"/>
<text x="2315.60" y="538.80" font-size="36" text-anchor="middle" fill="#000">0.4</text>
<line x1="2470.90" y1="479.80" x2="2470.90" y2="489.30" stroke="#505050" stroke-width="1.7" stroke-linecap="butt"/>
<text x="2473.50" y="538.80" font-size="36" text-anchor="middle" fill="#000">0.5</text>
<text x="1675.40" y="218.90" font-size="39.2" text-anchor="middle" fill="#000" transform="rotate(-90 1675.40 218.90)">Lambda</text>
<text x="2152.20" y="577.50" font-size="39.2" text-anchor="middle" fill="#000">sparsity</text>
<rect x="598.40" y="140.20" width="44.30" height="240.30" fill="#00BFC4"/>
<rect x="664.20" y="172.80" width="43.80" height="207.70" fill="#F8766D"/>
<rect x="729.00" y="164.40" width="45.80" height="216.10" fill="#FDBF7E"/>
<line x1="622.40" y1="74.70" x2="622.40" y2="140.20" stroke="#000" stroke-width="2.0" stroke-linecap="butt"/>
<line x1="611.40" y1="74.70" x2="633.40" y2="74.70" stroke="#000" stroke-width="2.0" stroke-linecap="butt"/>
<line x1="686.30" y1="108.50" x2="686.30" y2="172.80" stroke="#000" stroke-width="2.0" stroke-linecap="butt"/>
<line x1="675.30" y1="108.50" x2="697.30" y2="108.50" stroke="#000" stroke-width="2.0" stroke-linecap="butt"/>
<line x1="751.90" y1="93.50" x2="751.90" y2="164.40" stroke="#000" stroke-width="2.0" stroke-linecap="butt"/>
<line x1="740.90" y1="93.50" x2="762.90" y2="93.50" stroke="#000" stroke-width="2.0" stroke-linecap="butt"/>
<line x1="576.60" y1="52.00" x2="576.60" y2="381.50" stroke="#000" stroke-width="2.2" stroke-linecap="butt"/>
<line x1="575.60" y1="380.50" x2="796.80" y2="380.50" stroke="#000" stroke-width="2.2" stroke-linecap="butt"/>
<text x="575.40" y="122.60" font-size="20.5" text-anchor="end" fill="#000">0.7</text>
<text x="575.40" y="211.30" font-size="20.5" text-anchor="end" fill="#000">0.6</text>
<text x="575.40" y="299.70" font-size="20.5" text-anchor="end" fill="#000">0.5</text>
<text x="575.40" y="388.30" font-size="20.5" text-anchor="end" fill="#000">0.4</text>
<text x="525.40" y="227.20" font-size="26" text-anchor="middle" fill="#000" transform="rotate(-90 525.40 227.20)">aSigma</text>
<text x="620.70" y="408.90" font-size="26" text-anchor="middle" fill="#000">Hc</text>
<text x="688.60" y="408.90" font-size="26" text-anchor="middle" fill="#000">Pre-</text>
<text x="759.90" y="408.90" font-size="26" text-anchor="middle" fill="#000">Post-</text>
<line x1="622.20" y1="44.20" x2="622.20" y2="60.20" stroke="#000" stroke-width="1.8" stroke-linecap="butt"/>
<line x1="685.50" y1="44.20" x2="685.50" y2="60.20" stroke="#000" stroke-width="1.8" stroke-linecap="butt"/>
<line x1="622.20" y1="51.80" x2="685.50" y2="51.80" stroke="#000" stroke-width="1.8" stroke-linecap="butt"/>
<text x="657.80" y="53.00" font-size="21.5" text-anchor="middle" fill="#E8001C">*</text>
<line x1="689.50" y1="63.70" x2="689.50" y2="79.80" stroke="#000" stroke-width="1.8" stroke-linecap="butt"/>
<line x1="752.70" y1="63.70" x2="752.70" y2="79.80" stroke="#000" stroke-width="1.8" stroke-linecap="butt"/>
<line x1="689.50" y1="71.50" x2="752.70" y2="71.50" stroke="#000" stroke-width="1.8" stroke-linecap="butt"/>
<text x="725.00" y="72.70" font-size="21.5" text-anchor="middle" fill="#E8001C">*</text>
<rect x="1425.20" y="209.40" width="44.20" height="199.30" fill="#00BFC4"/>
<rect x="1490.90" y="268.00" width="43.90" height="140.70" fill="#F8766D"/>
<rect x="1555.50" y="252.10" width="46.00" height="156.60" fill="#FDBF7E"/>
<line x1="1443.60" y1="93.50" x2="1443.60" y2="209.40" stroke="#000" stroke-width="2.0" stroke-linecap="butt"/>
<line x1="1432.60" y1="93.50" x2="1454.60" y2="93.50" stroke="#000" stroke-width="2.0" stroke-linecap="butt"/>
<line x1="1509.60" y1="161.20" x2="1509.60" y2="268.00" stroke="#000" stroke-width="2.0" stroke-linecap="butt"/>
<line x1="1498.60" y1="161.20" x2="1520.60" y2="161.20" stroke="#000" stroke-width="2.0" stroke-linecap="butt"/>
<line x1="1575.20" y1="134.40" x2="1575.20" y2="252.10" stroke="#000" stroke-width="2.0" stroke-linecap="butt"/>
<line x1="1564.20" y1="134.40" x2="1586.20" y2="134.40" stroke="#000" stroke-width="2.0" stroke-linecap="butt"/>
<line x1="1399.80" y1="78.40" x2="1399.80" y2="409.70" stroke="#000" stroke-width="2.2" stroke-linecap="butt"/>
<line x1="1398.80" y1="408.70" x2="1618.70" y2="408.70" stroke="#000" stroke-width="2.2" stroke-linecap="butt"/>
<text x="1398.60" y="116.20" font-size="20.5" text-anchor="end" fill="#000">0.8</text>
<text x="1398.60" y="266.00" font-size="20.5" text-anchor="end" fill="#000">0.7</text>
<text x="1398.60" y="414.70" font-size="20.5" text-anchor="end" fill="#000">0.6</text>
<text x="1354.90" y="248.00" font-size="26" text-anchor="middle" fill="#000" transform="rotate(-90 1354.90 248.00)">aGamma</text>
<line x1="1445.80" y1="66.90" x2="1445.80" y2="82.40" stroke="#000" stroke-width="1.8" stroke-linecap="butt"/>
<line x1="1509.00" y1="66.90" x2="1509.00" y2="82.40" stroke="#000" stroke-width="1.8" stroke-linecap="butt"/>
<line x1="1445.80" y1="74.60" x2="1509.00" y2="74.60" stroke="#000" stroke-width="1.8" stroke-linecap="butt"/>
<text x="1478.00" y="75.90" font-size="21.5" text-anchor="middle" fill="#E8001C">*</text>
<rect x="2270.30" y="148.10" width="44.60" height="212.90" fill="#00BFC4"/>
<rect x="2336.20" y="143.20" width="44.20" height="217.80" fill="#F8766D"/>
<rect x="2401.20" y="125.70" width="45.80" height="235.30" fill="#FDBF7E"/>
<line x1="2289.40" y1="121.70" x2="2289.40" y2="148.10" stroke="#000" stroke-width="2.0" stroke-linecap="butt"/>
<line x1="2278.40" y1="121.70" x2="2300.40" y2="121.70" stroke="#000" stroke-width="2.0" stroke-linecap="butt"/>
<line x1="2354.80" y1="114.00" x2="2354.80" y2="143.20" stroke="#000" stroke-width="2.0" stroke-linecap="butt"/>
<line x1="2343.80" y1="114.00" x2="2365.80" y2="114.00" stroke="#000" stroke-width="2.0" stroke-linecap="butt"/>
<line x1="2420.50" y1="69.50" x2="2420.50" y2="125.70" stroke="#000" stroke-width="2.0" stroke-linecap="butt"/>
<line x1="2409.50" y1="69.50" x2="2431.50" y2="69.50" stroke="#000" stroke-width="2.0" stroke-linecap="butt"/>
<line x1="2245.50" y1="32.20" x2="2245.50" y2="362.00" stroke="#000" stroke-width="2.2" stroke-linecap="butt"/>
<line x1="2244.50" y1="361.00" x2="2464.80" y2="361.00" stroke="#000" stroke-width="2.2" stroke-linecap="butt"/>
<text x="2244.30" y="94.70" font-size="20.5" text-anchor="end" fill="#000">0.45</text>
<text x="2244.30" y="231.50" font-size="20.5" text-anchor="end" fill="#000">0.40</text>
<text x="2244.30" y="368.30" font-size="20.5" text-anchor="end" fill="#000">0.35</text>
<text x="2186.60" y="212.50" font-size="26" text-anchor="middle" fill="#000" transform="rotate(-90 2186.60 212.50)">aLambda</text>
</svg>
</body></html>
